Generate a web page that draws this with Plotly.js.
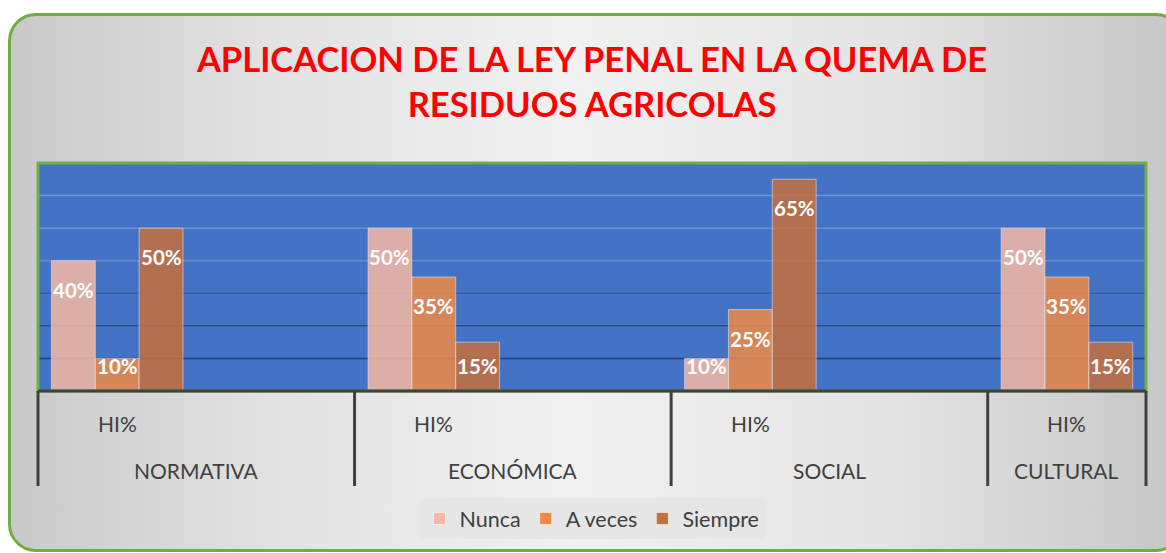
<!DOCTYPE html>
<html>
<head>
<meta charset="utf-8">
<script src="https://cdn.plot.ly/plotly-3.0.1.min.js"></script>
<style>
  html, body { margin:0; padding:0; background:#ffffff; width:1166px; height:553px; overflow:hidden; }
  #frame {
    position:absolute; left:8px; top:13px; width:1170px; height:533px;
    border:3px solid #70AD47; border-radius:28px;
    background: linear-gradient(to right, #c9c9c9 0%, #e2e2e2 22%, #f1f1f1 48%, #e4e4e4 75%, #c6c6c6 100%);
  }
  #chart { position:absolute; left:0; top:0; width:1166px; height:553px; }
</style>
</head>
<body>
<div id="frame"></div>
<div id="chart"></div>
<script>
// ---- data ----
const categories = ['NORMATIVA', 'ECONÓMICA', 'SOCIAL', 'CULTURAL'];
const subLabels  = ['HI%', 'HI%', 'HI%', 'HI%'];
const subSlots   = [2, 2, 2, 1];           // sub-category slots per main category
const seriesNames = ['Nunca', 'A veces', 'Siempre'];
const nunca   = [0.40, 0.50, 0.10, 0.50];
const aVeces  = [0.10, 0.35, 0.25, 0.35];
const siempre = [0.50, 0.15, 0.65, 0.15];
const yMax = 0.7;
const gridVals = [0.1, 0.2, 0.3, 0.4, 0.5, 0.6];

// ---- layout helpers ----
const totalSlots = subSlots.reduce((a, b) => a + b, 0);
const slotStart = [];
const boundaries = [-0.5];
let acc = 0;
subSlots.forEach(n => { slotStart.push(acc); acc += n; boundaries.push(acc - 0.5); });

const W = 1166, H = 553;
const M = { l: 38, r: 20, t: 163, b: 162 };
const plotH = H - M.t - M.b;

const barW = 0.277;
const offsets = [-0.415, -0.138, 0.139];
const fills = ['#F4B8A4', '#EE8B48', '#C5703F'];
const series = [nunca, aVeces, siempre];
const font = 'Lato, "Open Sans", sans-serif';

const traces = series.map((vals, i) => ({
  type: 'bar',
  name: seriesNames[i],
  x: slotStart,
  y: vals,
  width: barW,
  offset: offsets[i],
  marker: { color: fills[i], opacity: 0.86, line: { color: 'rgba(255,255,255,0.55)', width: 1 } },
  hoverinfo: 'skip'
}));

const annotations = [];
// data labels
series.forEach((vals, i) => {
  vals.forEach((v, j) => {
    const px = v / yMax * plotH;
    const centerPx = Math.max(25, px - 29);
    annotations.push({
      x: slotStart[j] + offsets[i] + barW / 2, xref: 'x',
      y: centerPx / plotH * yMax, yref: 'y',
      text: Math.round(v * 100) + '%', showarrow: false,
      xanchor: 'center', yanchor: 'middle',
      font: { family: font, size: 20.5, color: '#ffffff', weight: 'bold' }
    });
  });
});
// axis labels
categories.forEach((c, j) => {
  annotations.push({
    x: slotStart[j], xref: 'x', y: -32 / plotH, yref: 'paper',
    text: subLabels[j], showarrow: false, xanchor: 'center', yanchor: 'middle',
    font: { family: font, size: 21, color: '#404040' }
  });
  annotations.push({
    x: slotStart[j] + (subSlots[j] - 1) / 2, xref: 'x', y: -79 / plotH, yref: 'paper',
    text: c, showarrow: false, xanchor: 'center', yanchor: 'middle',
    font: { family: font, size: 21, color: '#404040' }
  });
});

const gridColors = ['#23406F', '#2D4C88', '#3C5E9E', '#6A8BCB', '#6E8FCF', '#7395D3'];
const shapes = [];
gridVals.forEach((g, k) => {
  shapes.push({ type: 'line', xref: 'paper', yref: 'y', x0: 0, x1: 1, y0: g, y1: g,
    line: { color: gridColors[k], width: 1.5 }, layer: 'below' });
});
shapes.push({ type: 'rect', xref: 'paper', yref: 'paper', x0: 0, x1: 1, y0: 0, y1: 1,
  line: { color: '#70AD47', width: 3 } });
shapes.push({ type: 'line', xref: 'paper', yref: 'paper', x0: 0, x1: 1, y0: 0, y1: 0,
  line: { color: '#404040', width: 3 } });
boundaries.forEach(b => {
  const xp = (b + 0.5) / totalSlots;
  shapes.push({ type: 'line', xref: 'paper', yref: 'paper', x0: xp, x1: xp, y0: 0, y1: -95 / plotH,
    line: { color: '#404040', width: 3 } });
});

const layout = {
  width: W, height: H,
  margin: M,
  paper_bgcolor: 'rgba(0,0,0,0)',
  plot_bgcolor: '#4472C4',
  title: {
    text: 'APLICACION DE LA LEY PENAL EN LA QUEMA DE<br>RESIDUOS AGRICOLAS',
    font: { family: font, size: 34.5, color: '#FF0000', weight: 'bold' },
    x: 592 / W, xref: 'container', xanchor: 'center',
    y: 1 - 72 / H, yref: 'container', yanchor: 'middle'
  },
  xaxis: { range: [-0.5, totalSlots - 0.5], showticklabels: false, showgrid: false, zeroline: false, showline: false, fixedrange: true },
  yaxis: { range: [0, yMax], showticklabels: false, showgrid: false, zeroline: false, showline: false, fixedrange: true },
  barmode: 'overlay',
  showlegend: true,
  legend: {
    orientation: 'h', x: 0.5, xanchor: 'center', y: -107 / plotH, yanchor: 'top',
    bgcolor: '#E6E6E6', font: { family: font, size: 21.5, color: '#404040' },
    traceorder: 'normal'
  },
  annotations: annotations,
  shapes: shapes
};

Plotly.newPlot('chart', traces, layout, { displayModeBar: false, staticPlot: true });
</script>
</body>
</html>
